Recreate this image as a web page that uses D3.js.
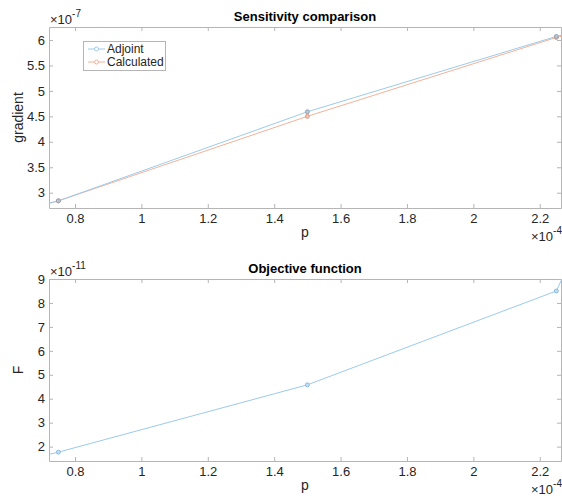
<!DOCTYPE html>
<html>
  <head>
    <meta charset="utf-8" />
    <title>Sensitivity comparison</title>
    <style>
      body {
        margin: 0;
        background: #fff;
      }
      svg {
        font-family: "Liberation Sans", Arial, sans-serif;
      }
    </style>
  </head>
  <body>
    <svg class="canvas"></svg>
    <script src="https://cdn.jsdelivr.net/npm/d3@7"></script>
    <script>
      // ---------------- data ----------------
      const p = [0.75, 1.5, 2.25]; // x 1e-4
      const adjoint = [2.84, 4.59, 6.07]; // x 1e-7
      const calculated = [2.84, 4.5, 6.05]; // x 1e-7
      const objective = [1.77, 4.58, 8.5]; // x 1e-11

      // line ends read at the axes edges (line runs past the markers)
      const edgeP = [0.72, 2.27];
      const adjointEdge = [2.79, 6.1];
      const calculatedEdge = [2.79, 6.08];
      const objectiveEdge = [1.67, 9.1];

      const xTicks = [0.8, 1, 1.2, 1.4, 1.6, 1.8, 2, 2.2];
      const yTicksTop = [3, 3.5, 4, 4.5, 5, 5.5, 6];
      const yTicksBottom = [2, 3, 4, 5, 6, 7, 8, 9];

      const blue = "#9ccbea";
      const orange = "#f3b29a";
      const axisColor = "#b5b5b5";
      const textColor = "#262626";

      const width = 562,
        height = 498;

      const svg = d3.select(".canvas").attr("width", width).attr("height", height);

      function withEdges(vals, edges) {
        const pts = p.map((x, i) => [x, vals[i]]);
        return [[edgeP[0], edges[0]], ...pts, [edgeP[1], edges[1]]];
      }

      function drawPanel(opt) {
        const x = d3.scaleLinear().domain([0.7217, 2.264]).range([49, 561]);
        const y = d3.scaleLinear().domain(opt.yDomain).range([opt.bottom, opt.top]);

        const g = svg.append("g");
        const clipId = "clip" + opt.id;
        svg
          .append("defs")
          .append("clipPath")
          .attr("id", clipId)
          .append("rect")
          .attr("x", 49)
          .attr("y", opt.top)
          .attr("width", 512)
          .attr("height", opt.bottom - opt.top);

        //----------------axes------------------
        const fmt = d3.format("~g");
        const styleAxis = (sel) => {
          sel.select(".domain").attr("stroke", axisColor);
          sel.selectAll(".tick line").attr("stroke", axisColor);
          sel
            .selectAll(".tick text")
            .attr("fill", textColor)
            .style("font-size", "13px")
            .style("font-family", "Liberation Sans, Arial, sans-serif");
        };

        g.append("g")
          .attr("transform", `translate(0,${opt.bottom})`)
          .call(d3.axisBottom(x).tickValues(xTicks).tickFormat(fmt).tickSize(-4).tickSizeOuter(0).tickPadding(6))
          .call(styleAxis);
        g.append("g")
          .attr("transform", `translate(0,${opt.top})`)
          .call(d3.axisTop(x).tickValues(xTicks).tickFormat("").tickSize(-4).tickSizeOuter(0))
          .call(styleAxis);
        g.append("g")
          .attr("transform", "translate(49,0)")
          .call(d3.axisLeft(y).tickValues(opt.yTicks).tickFormat(fmt).tickSize(-4).tickSizeOuter(0).tickPadding(4))
          .call(styleAxis);
        g.append("g")
          .attr("transform", "translate(561,0)")
          .call(d3.axisRight(y).tickValues(opt.yTicks).tickFormat("").tickSize(-4).tickSizeOuter(0))
          .call(styleAxis);

        //----------------lines------------------
        const line = d3
          .line()
          .x((d) => x(d[0]))
          .y((d) => y(d[1]));

        const plot = g.append("g").attr("clip-path", `url(#${clipId})`);
        opt.series.forEach((s) => {
          plot
            .append("path")
            .datum(withEdges(s.values, s.edges))
            .attr("fill", "none")
            .attr("stroke", s.color)
            .attr("stroke-width", 1)
            .attr("d", line);
        });
        opt.series.forEach((s) => {
          plot
            .selectAll(null)
            .data(p.map((v, i) => [v, s.values[i]]))
            .join("circle")
            .attr("cx", (d) => x(d[0]))
            .attr("cy", (d) => y(d[1]))
            .attr("r", 2)
            .attr("fill", s.fill)
            .attr("stroke", s.marker)
            .attr("stroke-width", 0.9);
        });

        //----------------text------------------
        g.append("text")
          .attr("x", 305)
          .attr("y", opt.top - 6)
          .attr("text-anchor", "middle")
          .attr("fill", "#000")
          .style("font-size", "13px")
          .style("font-weight", "bold")
          .text(opt.title);

        g.append("text")
          .attr("x", 305)
          .attr("y", opt.bottom + 29)
          .attr("text-anchor", "middle")
          .attr("fill", textColor)
          .style("font-size", "14px")
          .text("p");

        g.append("text")
          .attr("transform", `translate(23,${(opt.top + opt.bottom) / 2}) rotate(-90)`)
          .attr("text-anchor", "middle")
          .attr("fill", textColor)
          .style("font-size", "14px")
          .text(opt.ylabel);

        // exponent labels
        const expY = g
          .append("text")
          .attr("x", 50)
          .attr("y", opt.top - 3)
          .attr("fill", textColor)
          .style("font-size", "13px");
        expY.append("tspan").text("\u00d710");
        expY.append("tspan").attr("dy", -7).style("font-size", "10px").text(opt.yExp);

        const expX = g
          .append("text")
          .attr("x", 531)
          .attr("y", opt.bottom + 33)
          .attr("fill", textColor)
          .style("font-size", "13px");
        expX.append("tspan").text("\u00d710");
        expX.append("tspan").attr("dy", -7).style("font-size", "10px").text("-4");

        return g;
      }

      drawPanel({
        id: "a",
        top: 27,
        bottom: 208,
        yDomain: [2.7, 6.255],
        yTicks: yTicksTop,
        title: "Sensitivity comparison",
        ylabel: "gradient",
        yExp: "-7",
        series: [
          { values: calculated, edges: calculatedEdge, color: orange, marker: "#e0957c", fill: "#f3c3b2" },
          { values: adjoint, edges: adjointEdge, color: blue, marker: "#8a9fb5", fill: "#b9c6d4" },
        ],
      });

      drawPanel({
        id: "b",
        top: 279,
        bottom: 461,
        yDomain: [1.4, 9],
        yTicks: yTicksBottom,
        title: "Objective function",
        ylabel: "F",
        yExp: "-11",
        series: [{ values: objective, edges: objectiveEdge, color: blue, marker: "#7fb6de", fill: "#c4e0f3" }],
      });

      //----------------legend------------------
      const legend = svg.append("g");
      legend
        .append("rect")
        .attr("x", 83.5)
        .attr("y", 41.5)
        .attr("width", 82)
        .attr("height", 29)
        .attr("fill", "#fff")
        .attr("stroke", axisColor);

      const legendItems = [
        { name: "Adjoint", color: blue },
        { name: "Calculated", color: orange },
      ];
      legendItems.forEach((d, i) => {
        const yy = 49 + i * 13;
        legend
          .append("line")
          .attr("x1", 88)
          .attr("x2", 105)
          .attr("y1", yy)
          .attr("y2", yy)
          .attr("stroke", d.color)
          .attr("stroke-width", 1);
        legend
          .append("circle")
          .attr("cx", 96.5)
          .attr("cy", yy)
          .attr("r", 2)
          .attr("fill", "#fff")
          .attr("stroke", d.color);
        legend
          .append("text")
          .attr("x", 107)
          .attr("y", yy + 4.3)
          .attr("fill", textColor)
          .style("font-size", "12px")
          .text(d.name);
      });
    </script>
  </body>
</html>
